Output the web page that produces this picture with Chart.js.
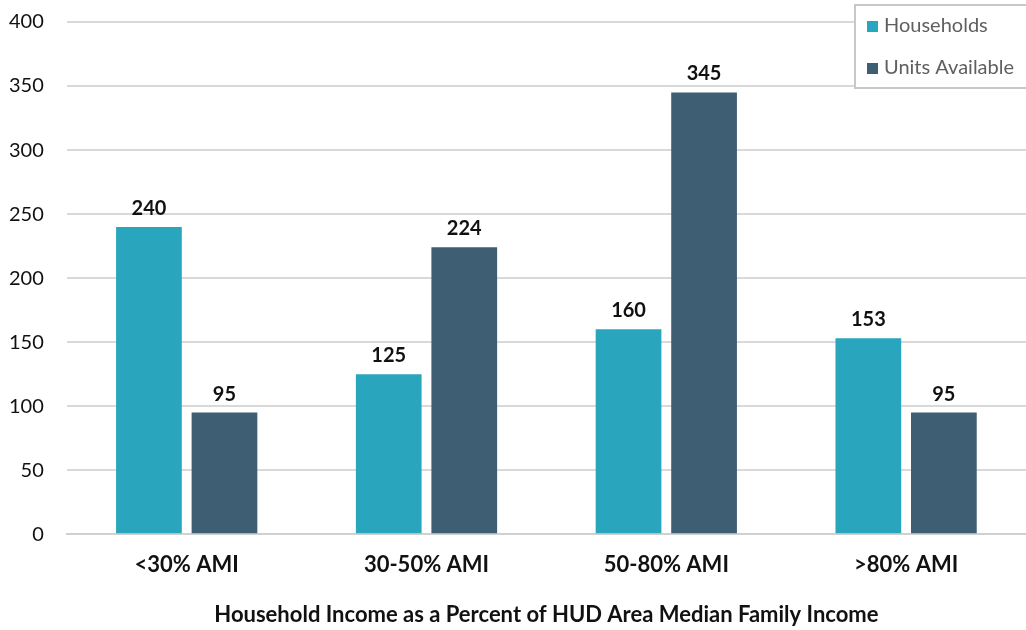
<!DOCTYPE html>
<html><head><meta charset="utf-8">
<script src="https://cdn.jsdelivr.net/npm/chart.js@4"></script>
<style>html,body{margin:0;padding:0;background:#fff;overflow:hidden}#wrap{width:1026px;height:630px;position:relative;overflow:hidden}#c{position:absolute;left:0;top:-13px}</style>
</head><body><div id="wrap"><canvas id="c" width="1026" height="643"></canvas></div>
<script>
const categories = ['<30% AMI', '30-50% AMI', '50-80% AMI', '>80% AMI'];
const households = [240, 125, 160, 153];
const unitsAvailable = [95, 224, 345, 95];
const seriesNames = ['Households', 'Units Available'];
const yTicks = [0, 50, 100, 150, 200, 250, 300, 350, 400];
const xTitle = 'Household Income as a Percent of HUD Area Median Family Income';

const geo = 'Lato, "Noto Sans", sans-serif';
const SHIFT = 13;

const valueLabels = {
  id: 'valueLabels',
  afterDatasetsDraw(chart) {
    const ctx = chart.ctx;
    ctx.save();
    ctx.font = 'bold 20px ' + geo;
    ctx.fillStyle = '#111';
    ctx.textAlign = 'center';
    ctx.textBaseline = 'alphabetic';
    chart.data.datasets.forEach((ds, i) => {
      chart.getDatasetMeta(i).data.forEach((bar, j) => {
        ctx.fillText(String(ds.data[j]), bar.x, bar.y - 12);
      });
    });
    ctx.restore();
  }
};

const boxLegend = {
  id: 'boxLegend',
  afterDraw(chart) {
    const ctx = chart.ctx;
    ctx.save();
    const x0 = 855, y0 = 5 + SHIFT, w = 180, h = 83;
    ctx.fillStyle = '#fff';
    ctx.fillRect(x0, y0, w, h);
    ctx.strokeStyle = '#c8c8c8';
    ctx.lineWidth = 2;
    ctx.strokeRect(x0, y0, w, h);
    ctx.font = '20px ' + geo;
    ctx.textBaseline = 'middle';
    chart.data.datasets.forEach((ds, i) => {
      const cy = 26 + SHIFT + i * 42;
      ctx.fillStyle = ds.backgroundColor;
      ctx.fillRect(867, cy - 5, 11, 11);
      ctx.fillStyle = '#5f5f5f';
      ctx.fillText(ds.label, 884, cy);
    });
    ctx.restore();
  }
};

new Chart(document.getElementById('c'), {
  type: 'bar',
  data: {
    labels: categories,
    datasets: [
      { label: seriesNames[0], data: households, backgroundColor: '#29A6BD', categoryPercentage: 0.63, barPercentage: 0.87 },
      { label: seriesNames[1], data: unitsAvailable, backgroundColor: '#3E5F73', categoryPercentage: 0.63, barPercentage: 0.87 }
    ]
  },
  options: {
    responsive: false,
    animation: false,
    layout: { autoPadding: false, padding: { top: 9, right: -2, left: -14, bottom: 2 } },
    plugins: { legend: { display: false }, tooltip: { enabled: false } },
    scales: {
      x: {
        grid: { display: false, drawTicks: false },
        border: { display: true, color: '#d0d0d0', width: 2 },
        ticks: { color: '#111', font: { family: geo, size: 22, weight: 'bold' }, padding: 18 },
        title: { display: true, text: xTitle, color: '#111', font: { family: geo, size: 22, weight: 'bold' }, padding: { top: 5, bottom: 0 } }
      },
      y: {
        min: 0, max: 400,
        afterBuildTicks(axis) { axis.ticks = yTicks.map(v => ({ value: v })); },
        grid: { color: '#d9d9d9', lineWidth: 2, drawTicks: false },
        border: { display: false },
        ticks: { color: '#111', font: { family: geo, size: 20 }, padding: 23 }
      }
    }
  },
  plugins: [valueLabels, boxLegend]
});
</script></body></html>
